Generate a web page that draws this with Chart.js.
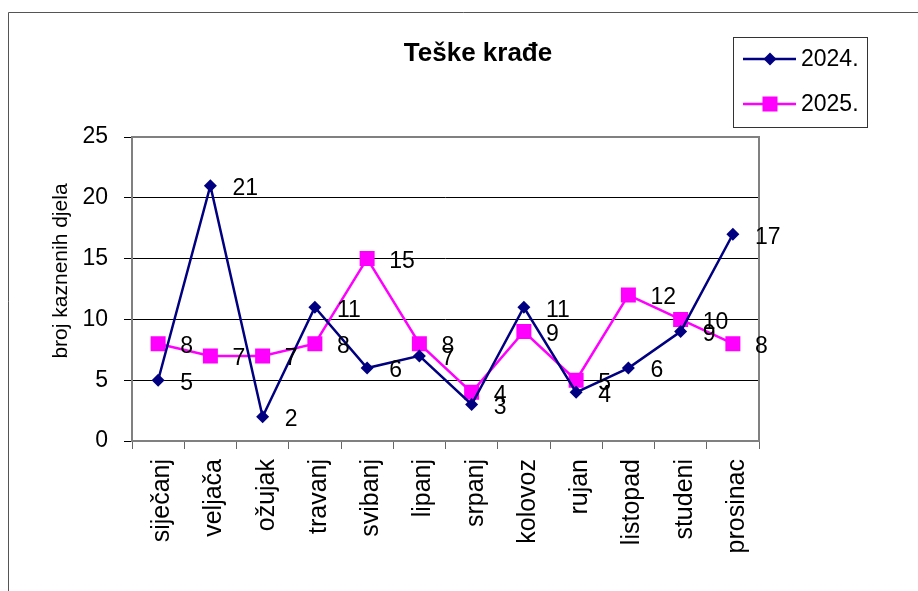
<!DOCTYPE html>
<html>
<head>
<meta charset="utf-8">
<script src="https://cdn.jsdelivr.net/npm/chart.js@4"></script>
<style>
  body { margin: 0; background: #fff; }
  canvas { display: block; }
</style>
</head>
<body>
<canvas id="myChart" width="918" height="591"></canvas>
<script>
var months = ['siječanj', 'veljača', 'ožujak', 'travanj', 'svibanj', 'lipanj', 'srpanj', 'kolovoz', 'rujan', 'listopad', 'studeni', 'prosinac'];
var values2024 = [5, 21, 2, 11, 6, 7, 3, 11, 4, 6, 9, 17];
var values2025 = [8, 7, 7, 8, 15, 8, 4, 9, 5, 12, 10, 8];
var yTicks = [0, 5, 10, 15, 20, 25];
var chartTitle = 'Teške krađe';
var yTitle = 'broj kaznenih djela';

var FONT = 'Arial, "Liberation Sans", sans-serif';

// frame, plot border, title, legend and point labels
var extras = {
    id: 'extras',
    beforeDraw: function (chart) {
        var c = chart.ctx;
        c.save();
        c.fillStyle = '#fff';
        c.fillRect(0, 0, chart.width, chart.height);
        c.strokeStyle = '#555';
        c.lineWidth = 1;
        c.beginPath();
        c.moveTo(8.5, chart.height);
        c.lineTo(8.5, 12.5);
        c.lineTo(chart.width, 12.5);
        c.stroke();
        c.restore();
    },
    beforeDatasetsDraw: function (chart) {
        var c = chart.ctx, a = chart.chartArea;
        c.save();
        c.strokeStyle = '#808080';
        c.lineWidth = 2;
        c.strokeRect(a.left, a.top, a.right - a.left, a.bottom - a.top);

        // y axis title
        c.fillStyle = '#000';
        c.font = '21px ' + FONT;
        c.textAlign = 'center';
        c.textBaseline = 'middle';
        c.translate(61, 271);
        c.rotate(-Math.PI / 2);
        c.fillText(yTitle, 0, 0);
        c.restore();
    },
    afterDatasetsDraw: function (chart) {
        var c = chart.ctx;
        c.save();
        c.fillStyle = '#000';
        c.font = '23px ' + FONT;
        c.textAlign = 'left';
        c.textBaseline = 'middle';
        chart.data.datasets.forEach(function (ds, i) {
            chart.getDatasetMeta(i).data.forEach(function (pt, j) {
                c.fillText(String(ds.data[j]), pt.x + 22, pt.y + 3);
            });
        });

        // title
        c.font = 'bold 26px ' + FONT;
        c.textAlign = 'center';
        c.fillText(chartTitle, 478, 54);

        // legend
        c.strokeStyle = '#333';
        c.lineWidth = 1;
        c.strokeRect(733.5, 37.5, 134, 90);
        c.font = '23px ' + FONT;
        c.textAlign = 'left';
        var rows = [59, 104];
        chart.data.datasets.forEach(function (ds, i) {
            var y = rows[i];
            c.strokeStyle = ds.borderColor;
            c.lineWidth = ds.borderWidth;
            c.beginPath();
            c.moveTo(743, y);
            c.lineTo(796, y);
            c.stroke();
            c.fillStyle = ds.borderColor;
            c.beginPath();
            if (ds.pointStyle === 'rectRot') {
                c.moveTo(770 - 6.5, y);
                c.lineTo(770, y - 6.5);
                c.lineTo(770 + 6.5, y);
                c.lineTo(770, y + 6.5);
            } else {
                c.rect(770 - 7.5, y - 7.5, 15, 15);
            }
            c.closePath();
            c.fill();
            c.fillStyle = '#000';
            c.fillText(ds.label, 801, y + 1);
        });
        c.restore();
    }
};

new Chart(document.getElementById('myChart'), {
    type: 'line',
    data: {
        labels: months,
        datasets: [{
            label: '2024.',
            data: values2024,
            borderColor: '#000080',
            backgroundColor: '#000080',
            borderWidth: 2.5,
            pointStyle: 'rectRot',
            pointRadius: 6.5,
            pointBorderWidth: 0,
            tension: 0
        }, {
            label: '2025.',
            data: values2025,
            borderColor: '#FF00FF',
            backgroundColor: '#FF00FF',
            borderWidth: 2.5,
            pointStyle: 'rect',
            pointRadius: 10.6,
            pointBorderWidth: 0,
            tension: 0
        }]
    },
    options: {
        responsive: false,
        animation: false,
        devicePixelRatio: 1,
        layout: { padding: { top: 137, right: 159, bottom: 0, left: 0 } },
        plugins: {
            legend: { display: false },
            title: { display: false },
            tooltip: { enabled: false }
        },
        scales: {
            x: {
                offset: true,
                afterFit: function (s) { s.height = 150; },
                grid: {
                    offset: true,
                    drawOnChartArea: false,
                    drawTicks: true,
                    tickLength: 8,
                    color: '#666'
                },
                border: { display: false },
                ticks: {
                    minRotation: 90,
                    maxRotation: 90,
                    autoSkip: false,
                    padding: 10,
                    labelOffset: 4,
                    color: '#000',
                    font: { family: FONT, size: 25 }
                }
            },
            y: {
                min: yTicks[0],
                max: yTicks[yTicks.length - 1],
                afterFit: function (s) { s.width = 132; },
                afterBuildTicks: function (s) {
                    s.ticks = yTicks.map(function (v) { return { value: v }; });
                },
                grid: {
                    color: '#000',
                    lineWidth: 1,
                    drawTicks: true,
                    tickLength: 8
                },
                border: { display: false },
                ticks: {
                    padding: 16,
                    color: '#000',
                    font: { family: FONT, size: 23 }
                }
            }
        }
    },
    plugins: [extras]
});
</script>
</body>
</html>
